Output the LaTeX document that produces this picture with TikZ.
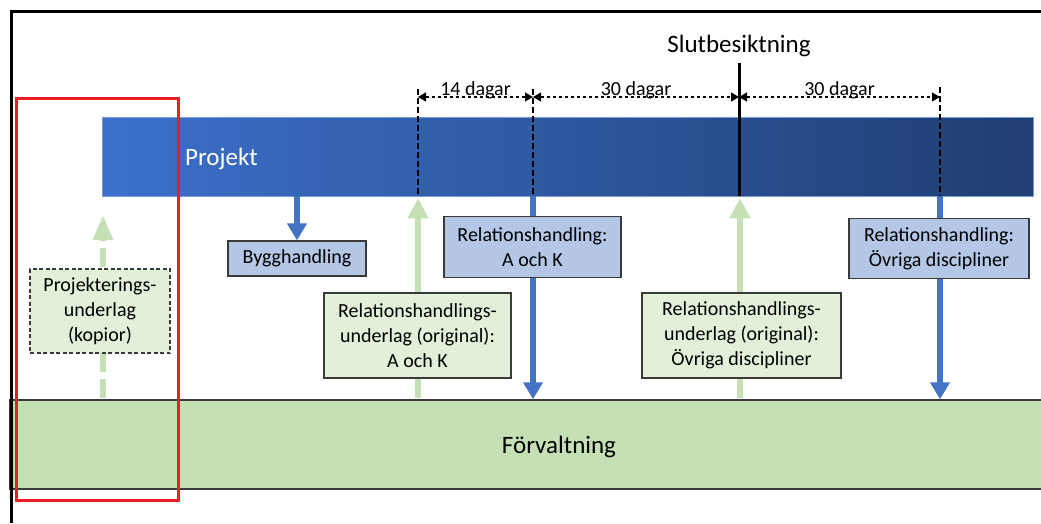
\documentclass[tikz,border=0pt]{standalone}
\usepackage{fontspec}
\setmainfont{Carlito}
\usetikzlibrary{arrows.meta,calc}
\definecolor{barL}{HTML}{3C70CB}
\definecolor{barR}{HTML}{203E71}
\definecolor{bbfill}{HTML}{B4C7E7}
\definecolor{gbfill}{HTML}{E2F0D9}
\definecolor{forvfill}{HTML}{C5E0B4}
\definecolor{arrgreen}{HTML}{C5E0B4}
\definecolor{arrblue}{HTML}{4472C4}
\definecolor{boxline}{HTML}{3A3A3A}
\definecolor{hlred}{HTML}{EE1C25}
\begin{document}
\begin{tikzpicture}[x=1pt,y=-1pt,
  boxtext/.style={align=center,font=\fontsize{20}{25}\selectfont,inner sep=0pt},
  bluebox/.style={boxtext,draw=boxline,line width=1.2pt,fill=bbfill},
  greenbox/.style={boxtext,draw=boxline,line width=1.2pt,fill=gbfill},
  bluearr/.style={draw=arrblue,line width=6pt,-{Triangle[width=19pt,length=17pt]}},
  greenarr/.style={draw=arrgreen,line width=6pt,-{Triangle[width=20pt,length=20pt]}},
  vdash/.style={draw=black,line width=1.5pt,dash pattern=on 6pt off 3pt},
  dimarr/.style={draw=black,line width=1.2pt,dash pattern=on 3.5pt off 2.5pt,
     {Triangle[width=9pt,length=8pt]}-{Triangle[width=9pt,length=8pt]}},
  dimlabel/.style={anchor=base,font=\fontsize{20}{24}\selectfont,inner sep=0pt},
  bigtext/.style={font=\fontsize{25}{30}\selectfont,inner sep=0pt}
]
\useasboundingbox (0,0) rectangle (1041,523);

% Forvaltning band
\node[draw=boxline,line width=1.5pt,fill=forvfill,minimum width=1040pt,minimum height=89pt,inner sep=0pt]
  (forv) at (530,444.5) {};
\node[bigtext,anchor=base] (forvt) at (559,453) {Förvaltning};

% Projekt bar
\node[left color=barL,right color=barR,draw=barL!70!white,line width=0.6pt,
  minimum width=931pt,minimum height=79pt,inner sep=0pt] (proj) at (567.5,156.5) {};
\node[bigtext,anchor=base west,text=white] (projt) at (185,165) {Projekt};

% coordinates of the timeline
\coordinate (t1) at (418,89);
\coordinate (t2) at (533,89);
\coordinate (t3) at (940,87);
\coordinate (ts) at (739,63);
\coordinate (d1) at (418,97);
\coordinate (d2) at (533,97);
\coordinate (d3) at (739,97);
\coordinate (d4) at (940,97);

% bottom start points of green arrows
\coordinate (g0) at (103,398);
\coordinate (g1) at (418,398);
\coordinate (g2) at (740,398);
\coordinate (g0t) at (103,215);
% columns of the blue arrows
\coordinate (b1) at (533,0);
\coordinate (b2) at (940,0);

% arrows (behind boxes)
\draw[draw=arrgreen,line width=6pt,dash pattern=on 19.5pt off 6.7pt,
  -{Triangle[width=19pt,length=25pt]}] (g0) -- (g0t);
\draw[greenarr,shorten >=2pt] (g1) -- (g1 |- proj.south);
\draw[greenarr,shorten >=2pt] (g2) -- (g2 |- proj.south);
\draw[bluearr] (b1 |- proj.south) -- (b1 |- forv.north);
\draw[bluearr] (b2 |- proj.south) -- (b2 |- forv.north);

% boxes
\node[bluebox,minimum width=138pt,minimum height=35pt] (byg) at (297,258.5) {Bygghandling};
\draw[bluearr] (byg.north |- proj.south) -- (byg.north);
\node[bluebox,minimum width=177pt,minimum height=61pt] (relak) at (532.5,247) {Relationshandling:\\A och K};
\node[bluebox,minimum width=180pt,minimum height=60pt] (relov) at (939,248.5) {Relationshandling:\\Övriga discipliner};

\node[greenbox,minimum width=187pt,minimum height=85pt] (ruak) at (417.5,335.5)
  {Relationshandlings-\\underlag (original):\\A och K};
\node[greenbox,minimum width=199pt,minimum height=85pt] (ruov) at (741.5,335.5)
  {Relationshandlings-\\underlag (original):\\Övriga discipliner};
\node[boxtext,draw=boxline,line width=1.2pt,dash pattern=on 4pt off 2.5pt,fill=gbfill,
  minimum width=140pt,minimum height=84pt] (proju) at (100,311)
  {Projekterings-\\underlag\\(kopior)};

% timeline dashed verticals and dimension arrows
\draw[vdash] (t1) -- (t1 |- proj.south);
\draw[vdash] (t2) -- (t2 |- proj.south);
\draw[vdash] (t3) -- (t3 |- proj.south);
\draw[draw=black,line width=3pt] (ts) -- (ts |- proj.south);
\node[bigtext,anchor=base] (slut) at (739,52) {Slutbesiktning};

\draw[dimarr] (d1) -- (d2);
\draw[dimarr] (d2) -- (d3);
\draw[dimarr] (d3) -- (d4);
\node[dimlabel] (l1) at ($(d1)!0.5!(d2)+(0,-2)$) {14 dagar};
\node[dimlabel] (l2) at ($(d2)!0.5!(d3)+(0,-2)$) {30 dagar};
\node[dimlabel] (l3) at ($(d3)!0.5!(d4)+(0,-2)$) {30 dagar};

% red highlight box
\node[draw=hlred,line width=3pt,minimum width=162pt,minimum height=402pt,inner sep=0pt] (hl) at (97,299) {};

% outer frame
\coordinate (fr1) at (1041,11);
\coordinate (fr2) at (11,11);
\coordinate (fr3) at (11,523);
\draw[line width=3pt] (fr1) -- (fr2) -- (fr3);
\end{tikzpicture}
\end{document}
